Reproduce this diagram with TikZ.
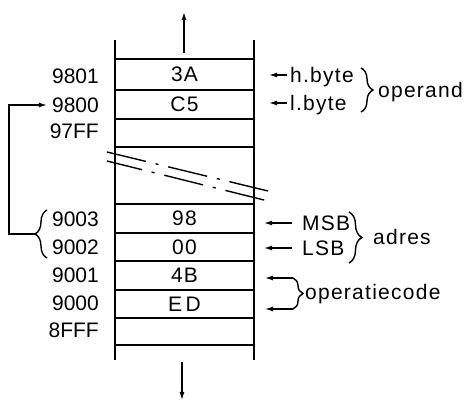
\documentclass[tikz,border=0pt]{standalone}
\usepackage{fontspec}
\setmainfont{Liberation Sans}
\newfontfamily\spaced[LetterSpace=6]{Liberation Sans}
\usetikzlibrary{arrows.meta,decorations.pathreplacing}
\begin{document}
\begin{tikzpicture}[x=1pt,y=-1pt,
  txt/.style={inner sep=0pt,text height=15pt,text depth=0pt,font=\fontsize{21}{21}\selectfont},
  cell/.style={txt,draw,line width=1.1pt,minimum width=139pt,font=\fontsize{21}{21}\selectfont\spaced},
  addr/.style={txt,anchor=east},
  lab/.style={txt,anchor=west,font=\fontsize{21}{21}\selectfont\spaced},
  arr/.style={-{Latex[length=8pt,width=5pt]},line width=1.3pt},
  brc/.style={decorate,decoration={brace,amplitude=#1},line width=1.4pt},
  brc/.default=12pt,
  wall/.style={line width=2pt},
  brk/.style={line width=1.4pt,dash pattern=on 40pt off 10pt on 3pt off 10pt}]
\useasboundingbox (0,0) rectangle (467,403);
% memory cells
\node[cell,minimum height=31pt] (c1) at (184.5,74.5) {3A};
\node[cell,minimum height=29pt] (c2) at (184.5,104.5) {C5};
\node[cell,minimum height=28pt] (c3) at (184.5,133) {};
\node[cell,minimum height=29pt] (c4) at (184.5,218.5) {98};
\node[cell,minimum height=28pt] (c5) at (184.5,247) {00};
\node[cell,minimum height=29pt] (c6) at (184.5,275.5) {4B};
\node[cell,minimum height=28pt] (c7) at (184.5,304) {E\,D};
\node[cell,minimum height=27pt] (c8) at (184.5,331.5) {};
% walls
\coordinate (wlt) at (115,40); \coordinate (wlb) at (115,360);
\coordinate (wrt) at (254,40); \coordinate (wrb) at (254,360);
\draw[wall] (wlt) -- (wlb);
\draw[wall] (wrt) -- (wrb);
% break lines
\coordinate (b1s) at (107,152); \coordinate (b1e) at (268,191);
\coordinate (b2s) at (107,161); \coordinate (b2e) at (268,201);
\draw[brk] (b1s) -- (b1e);
\draw[brk,dash phase=4pt] (b2s) -- (b2e);
% up / down arrows
\coordinate (upS) at (184,53); \coordinate (upE) at (184,12);
\coordinate (dnS) at (182,362); \coordinate (dnE) at (182,400);
\draw[arr] (upS) -- (upE);
\draw[arr] (dnS) -- (dnE);
% addresses
\node[addr] (a9801) at (99,76) {9801};
\node[addr] (a9800) at (99,105) {9800};
\node[addr] (a97FF) at (99,131) {97FF};
\node[addr] (a9003) at (99,219) {9003};
\node[addr] (a9002) at (99,247) {9002};
\node[addr] (a9001) at (99,275) {9001};
\node[addr] (a9000) at (99,303) {9000};
\node[addr] (a8FFF) at (99,330) {8FFF};
% left brace and loop
\coordinate (lbb) at (47,258); \coordinate (lbt) at (47,210);
\draw[brc] (lbb) -- (lbt);
\coordinate (lbtip) at (35,234);
\coordinate (loopc) at (9,234);
\draw[arr] (lbtip) -- (loopc) |- ([xshift=-5pt]a9800.west);
% right labels
\node[lab] (hb) at (290,75) {h.byte};
\node[lab] (lb) at (290,103) {l.byte};
\node[lab] (op) at (378,90) {operand};
\draw[arr] ([xshift=-3pt]hb.west) -- ++(-18,0);
\draw[arr] ([xshift=-3pt]lb.west) -- ++(-18,0);
\coordinate (ob1) at (361,68); \coordinate (ob2) at (361,112);
\draw[brc] (ob1) -- (ob2);
\node[lab] (msb) at (302,223) {MSB};
\node[lab] (lsb) at (302,248) {LSB};
\node[lab] (ad) at (373,237) {adres};
\draw[arr] ([xshift=-10pt]msb.west) -- ++(-28,0);
\draw[arr] ([xshift=-10pt]lsb.west) -- ++(-28,0);
\coordinate (ab1) at (349,212); \coordinate (ab2) at (349,263);
\draw[brc=13pt] (ab1) -- (ab2);
\node[lab] (oc) at (305,292) {operatiecode};
\coordinate (cb1) at (293,278); \coordinate (cb2) at (293,309);
\draw[brc=10pt] (cb1) -- (cb2);
\draw[arr] (cb1) -- ++(-28,0);
\draw[arr] (cb2) -- ++(-28,0);
\end{tikzpicture}
\end{document}
